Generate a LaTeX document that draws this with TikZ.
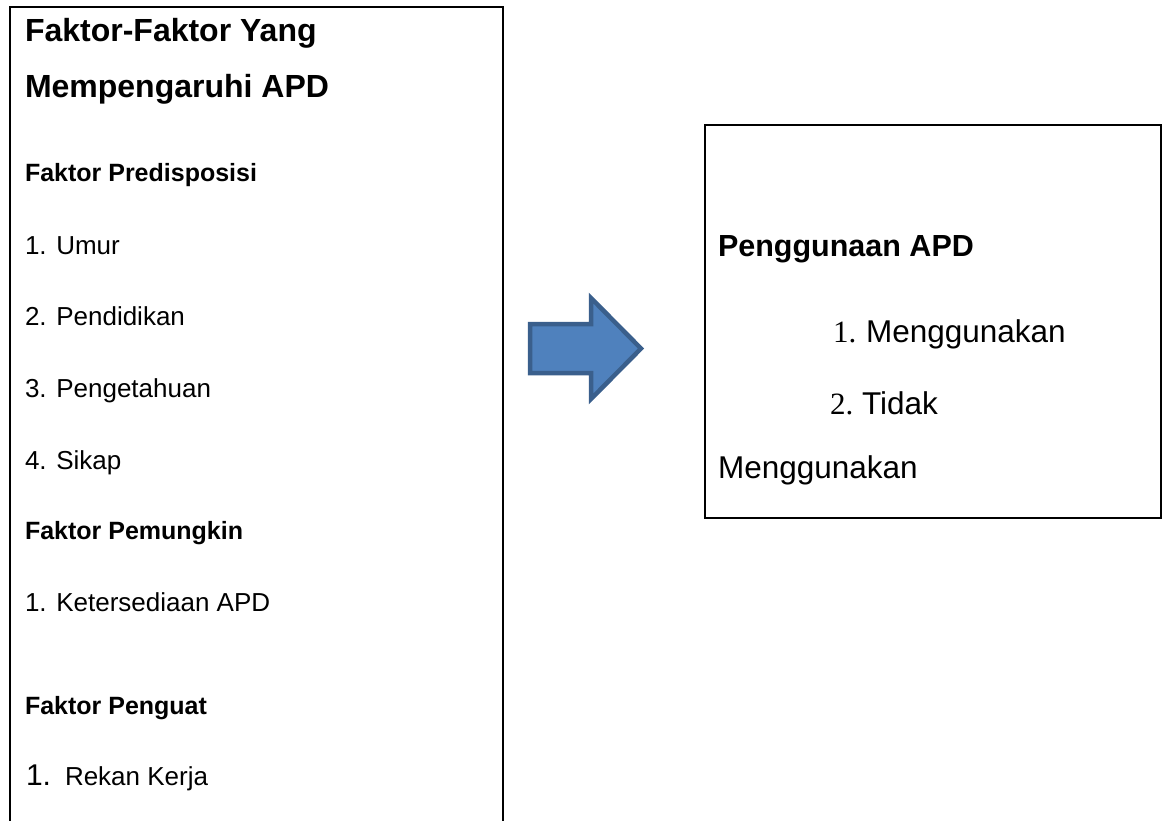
\documentclass[tikz,border=0pt]{standalone}
\usepackage{fontspec}
\setmainfont{Liberation Sans}
\newfontfamily\serifdigits{Liberation Serif}
\definecolor{arrowfill}{HTML}{4F81BD}
\definecolor{arrowline}{HTML}{3A5F8C}
\begin{document}
\begin{tikzpicture}[x=1pt,y=-1pt,
  txt/.style={anchor=base west,inner sep=0pt,outer sep=0pt},
  titletxt/.style={txt,font=\fontsize{32}{36}\selectfont\bfseries},
  subtxt/.style={txt,font=\fontsize{25}{30}\selectfont\bfseries},
  itemtxt/.style={txt,font=\fontsize{26}{30}\selectfont},
  righttxt/.style={txt,font=\fontsize{31.5}{36}\selectfont},
  rightbold/.style={txt,font=\fontsize{30.5}{36}\selectfont\bfseries},
  boxline/.style={draw=black,line width=2.6pt},
  blockarrow/.style={fill=arrowfill,draw=arrowline,line width=4.5pt,line join=miter}]
\useasboundingbox (0,0) rectangle (1166,820);
\fill[white] (0,0) rectangle (1166,820);
% left box (open at the bottom)
\coordinate (lbl) at (10,825);
\coordinate (lbtl) at (10,7);
\coordinate (lbtr) at (503,7);
\coordinate (lbr) at (503,825);
\draw[boxline,line join=miter] (lbl) -- (lbtl) -- (lbtr) -- (lbr);
% right box
\coordinate (rbtl) at (705,125);
\coordinate (rbbr) at (1161,518);
\draw[boxline] (rbtl) rectangle (rbbr);
% block arrow
\draw[blockarrow] (530,324) -- (591,324) -- (591,298) -- (641,348.5) -- (591,399) -- (591,373) -- (530,373) -- cycle;
% left texts
\node[titletxt] (t1) at (25,41) {Faktor-Faktor Yang};
\node[titletxt] (t2) at (25,97) {Mempengaruhi APD};
\node[subtxt] (s1) at (25,181) {Faktor Predisposisi};
\node[itemtxt] (i1) at (25,254) {1. Umur};
\node[itemtxt] (i2) at (25,325) {2. Pendidikan};
\node[itemtxt] (i3) at (25,397) {3. Pengetahuan};
\node[itemtxt] (i4) at (25,469) {4. Sikap};
\node[subtxt] (s2) at (25,539) {Faktor Pemungkin};
\node[itemtxt] (i5) at (25,611) {1. Ketersediaan APD};
\node[subtxt] (s3) at (25,714) {Faktor Penguat};
\node[txt,font=\fontsize{30}{34}\selectfont] (n6) at (26,785) {1.};
\node[itemtxt] (i6) at (65,785) {Rekan Kerja};
% right texts
\node[rightbold] (r0) at (718,256) {Penggunaan APD};
\node[txt,font=\fontsize{31}{36}\serifdigits] (rn1) at (833,342) {1.};
\node[righttxt] (r1) at (866,342) {Menggunakan};
\node[txt,font=\fontsize{31}{36}\serifdigits] (rn2) at (830,414) {2.};
\node[righttxt] (r2) at (862,414) {Tidak};
\node[righttxt] (r3) at (718,478) {Menggunakan};
\end{tikzpicture}
\end{document}
